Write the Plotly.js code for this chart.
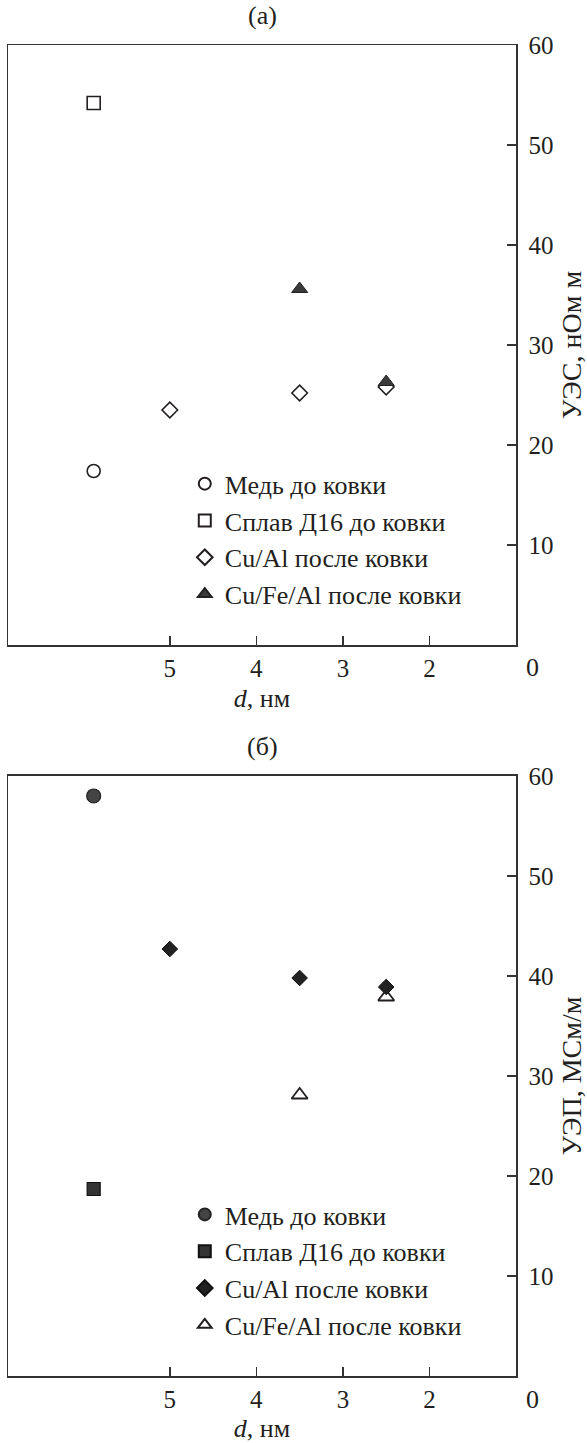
<!DOCTYPE html>
<html><head><meta charset="utf-8">
<script src="https://cdn.plot.ly/plotly-3.0.1.min.js"></script>
<style>html,body{margin:0;padding:0;background:#fff}</style>
</head><body><div id="chart" style="width:587px;height:1443px"></div>
<script>
// Series names (legend text)
const seriesNames = ['Медь до ковки', 'Сплав Д16 до ковки', 'Cu/Al после ковки', 'Cu/Fe/Al после ковки'];
// d, nm (x) and values: UES (panel a, nOhm m) and UEP (panel b, MS/m)
const medX = [5.88];            const medUES = [17.4];              const medUEP = [58.0];
const d16X = [5.88];            const d16UES = [54.2];              const d16UEP = [18.7];
const cualX = [5, 3.5, 2.5];    const cualUES = [23.5, 25.2, 25.8]; const cualUEP = [42.7, 39.8, 38.9];
const cufealX = [3.5, 2.5];     const cufealUES = [35.6, 26.3];     const cufealUEP = [28.1, 37.9];
// Axis ticks and labels
const xTickVals = [5, 4, 3, 2];
const yTickVals = [10, 20, 30, 40, 50, 60];
const cornerLabel = '0';
const panelLabels = ['(a)', '(б)'];
const xTitle = '<i>d</i>, нм';
const yTitles = ['УЭС, нОм м', 'УЭП, МСм/м'];

const FONT = 'Liberation Serif, Times New Roman, serif';
const INK = '#231f20';
const LINE = '#333';

function mk(name, x, y, xa, ya, leg, rank, marker) {
  return {type: 'scatter', mode: 'markers', name: name, x: x, y: y, xaxis: xa, yaxis: ya,
          legend: leg, legendrank: rank, marker: marker, cliponaxis: false};
}
const data = [
  mk(seriesNames[0], medX, medUES, 'x', 'y', 'legend', 1, {symbol: 'circle-open', size: 13, color: INK, line: {width: 1.6, color: INK}}),
  mk(seriesNames[1], d16X, d16UES, 'x', 'y', 'legend', 2, {symbol: 'square-open', size: 13, color: INK, line: {width: 1.6, color: INK}}),
  mk(seriesNames[2], cualX, cualUES, 'x', 'y', 'legend', 3, {symbol: 'diamond-open', size: 12, color: INK, line: {width: 1.6, color: INK}}),
  mk(seriesNames[3], cufealX, cufealUES, 'x', 'y', 'legend', 4, {symbol: 'triangle-up', size: 14, color: '#3a3a3a', line: {width: 1, color: '#222'}}),

  mk(seriesNames[0], medX, medUEP, 'x2', 'y2', 'legend2', 1, {symbol: 'circle', size: 14, color: '#444', line: {width: 1.2, color: '#222'}}),
  mk(seriesNames[1], d16X, d16UEP, 'x2', 'y2', 'legend2', 2, {symbol: 'square', size: 13, color: '#333', line: {width: 1.2, color: '#111'}}),
  mk(seriesNames[3], cufealX, cufealUEP, 'x2', 'y2', 'legend2', 4, {symbol: 'triangle-up-open', size: 14, color: INK, line: {width: 1.8, color: INK}}),
  mk(seriesNames[2], cualX, cualUEP, 'x2', 'y2', 'legend2', 3, {symbol: 'diamond', size: 12, color: '#222', line: {width: 1, color: '#111'}})
];

function xAxis(anchor) {
  return {anchor: anchor, domain: [0, 1], range: [6.87, 1.0], tickmode: 'array', tickvals: xTickVals,
    ticks: 'inside', ticklen: 9, tickwidth: 1.5, tickcolor: LINE, showline: true, mirror: true,
    linecolor: LINE, linewidth: 1.5, showgrid: false, zeroline: false,
    tickfont: {family: FONT, size: 25, color: INK},
    title: {text: xTitle, font: {family: FONT, size: 26, color: INK}, standoff: 8}};
}
function yAxis(anchor, dom, title) {
  return {anchor: anchor, domain: dom, range: [0, 60], side: 'right', tickmode: 'array', tickvals: yTickVals,
    ticks: 'inside', ticklen: 9, tickwidth: 1.5, tickcolor: LINE, showline: true, mirror: true,
    linecolor: LINE, linewidth: 1.5, showgrid: false, zeroline: false, ticklabelstandoff: 6,
    tickfont: {family: FONT, size: 25, color: INK},
    title: {text: title, font: {family: FONT, size: 28, color: INK}, standoff: 10}};
}
function legendCfg(y) {
  return {x: 0.348, xanchor: 'left', y: y, yanchor: 'top', bgcolor: 'rgba(0,0,0,0)', borderwidth: 0,
    font: {family: FONT, size: 26, color: INK}, itemsizing: 'constant', traceorder: 'normal', tracegroupgap: 0};
}
const ann = (text, x, y, xa) => ({text: text, xref: 'paper', yref: 'paper', x: x, y: y, xanchor: xa || 'center',
  yanchor: 'middle', showarrow: false, font: {family: FONT, size: 26, color: INK}});

const layout = {
  width: 587, height: 1443, margin: {l: 8, r: 71, t: 45, b: 67},
  paper_bgcolor: '#fff', plot_bgcolor: '#fff', showlegend: true,
  font: {family: FONT, color: INK},
  xaxis: xAxis('y'), xaxis2: xAxis('y2'),
  yaxis: yAxis('x', [0.54921, 1], yTitles[0]),
  yaxis2: yAxis('x2', [0, 0.45079], yTitles[1]),
  legend: legendCfg(0.688), legend2: legendCfg(0.139),
  annotations: [
    ann(panelLabels[0], 0.5, 1.0225), ann(panelLabels[1], 0.5, 0.4733),
    ann(cornerLabel, 1.0315, 0.532), ann(cornerLabel, 1.0315, -0.0173)
  ]
};
Plotly.newPlot('chart', data, layout, {displayModeBar: false, staticPlot: true});
</script></body></html>
